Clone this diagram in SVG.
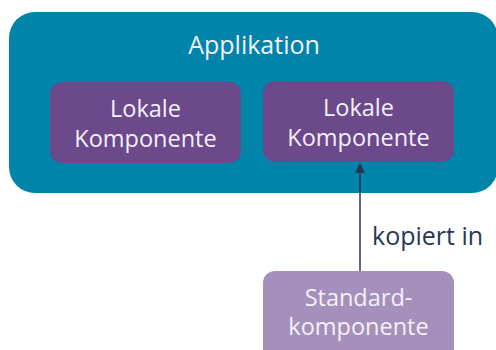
<svg xmlns="http://www.w3.org/2000/svg" width="496" height="350" viewBox="0 0 496 350">
<defs>
<style>
.t{font-family:"Open Sans","DejaVu Sans",sans-serif;font-size:23.5px;fill:#f4f0f8;text-anchor:middle}
.lbl{font-family:"Open Sans","DejaVu Sans",sans-serif;font-size:25px;fill:#2a3656}
</style>
<marker id="ah" markerWidth="10" markerHeight="10" refX="9" refY="5" orient="auto" markerUnits="userSpaceOnUse">
<path d="M0,0 L10,5 L0,10 Z" fill="#2a3656"/>
</marker>
</defs>
<rect width="496" height="350" fill="#ffffff"/>
<g id="applikation">
<rect x="9" y="12" width="489" height="181" rx="26" fill="#0084aa"/>
<text class="t" x="254" y="54" style="font-size:25px">Applikation</text>
</g>
<g id="lokal1">
<rect x="50" y="82" width="191" height="81" rx="12" fill="#6b498b"/>
<text class="t" x="145.5" y="117">Lokale</text>
<text class="t" x="145.5" y="147">Komponente</text>
</g>
<g id="lokal2">
<rect x="263" y="81" width="191" height="81" rx="12" fill="#6b498b"/>
<text class="t" x="358.5" y="116">Lokale</text>
<text class="t" x="358.5" y="146">Komponente</text>
</g>
<g id="standard">
<rect x="263" y="271" width="191" height="90" rx="12" fill="#a590bb"/>
<text class="t" x="358.5" y="306">Standard-</text>
<text class="t" x="358.5" y="335">komponente</text>
</g>
<g id="connectors">
<line x1="360" y1="271" x2="360" y2="164" stroke="#2a3656" stroke-width="1.5" marker-end="url(#ah)"/>
<text class="lbl" x="372" y="245">kopiert in</text>
</g>
</svg>
